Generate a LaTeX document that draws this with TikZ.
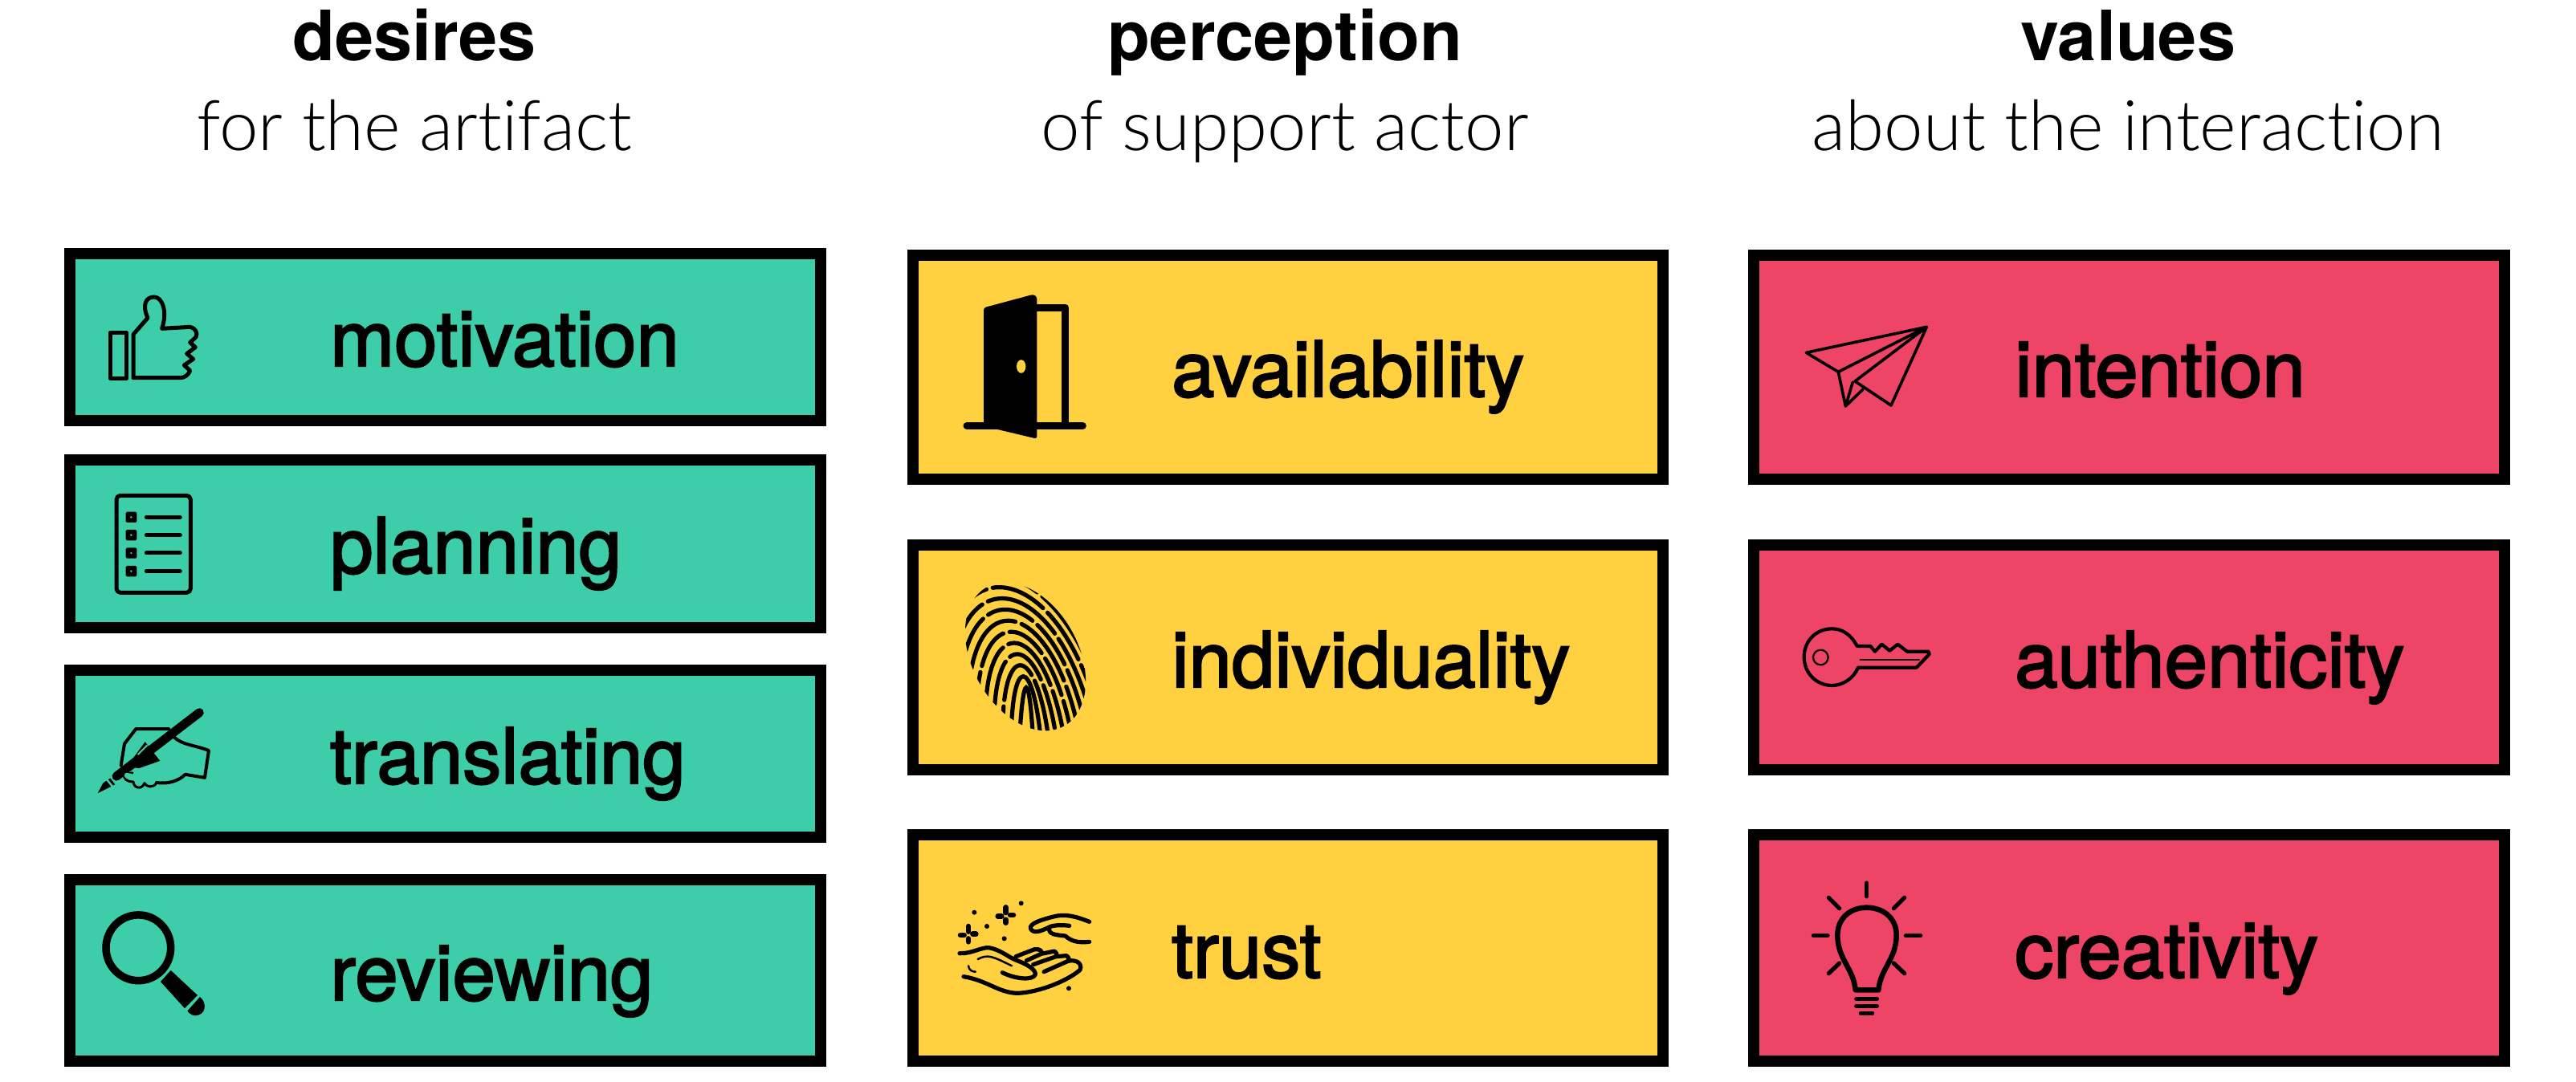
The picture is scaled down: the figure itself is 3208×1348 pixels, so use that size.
\documentclass[tikz,border=0pt]{standalone}
\usepackage{fontspec}
\setmainfont{TeX Gyre Heros}
\newfontfamily\medf[FakeBold=2.4]{TeX Gyre Heros}
\newfontfamily\lightf[Ligatures=NoCommon]{Lato Light}
\definecolor{cgreen}{HTML}{3DCDA8}
\definecolor{cyellow}{HTML}{FFD03F}
\definecolor{cred}{HTML}{EE4465}
\tikzset{
  boxy/.style={draw=black,line width=14pt,inner sep=0pt,outer sep=0pt},
  lab/.style={anchor=base west,inner sep=0pt,font=\medf\fontsize{96}{96}\selectfont},
  head/.style={anchor=base,inner sep=0pt,font=\bfseries\fontsize{86.5}{86.5}\selectfont},
  sub/.style={anchor=base,inner sep=0pt,font=\lightf\fontsize{87}{87}\selectfont},
  zoomed/.style={shift={#1},scale=0.33333},
  ic/.style={draw=black,line width=#1pt,line cap=round,line join=round},
  ic/.default=5
}
\newcommand{\cardbox}[6]{%
  \pgfmathsetmacro\cw{#4-#2-14}\pgfmathsetmacro\ch{#5-#3-14}%
  \pgfmathsetmacro\cx{(#2+#4)/2}\pgfmathsetmacro\cy{(#3+#5)/2}%
  \node[boxy,fill=#6,minimum width=\cw pt,minimum height=\ch pt] (#1) at (\cx,\cy) {};%
}
\begin{document}
\begin{tikzpicture}[x=1pt,y=-1pt]
\useasboundingbox (0,0) rectangle (3208,1348);
% headers
\node[head] (h1) at (516,76) {desires};
\node[sub] (s1) at (516,188) {for the artifact};
\node[head] (h2) at (1600,76) {perception};
\node[sub] (s2) at (1600,188) {of support actor};
\node[head] (h3) at (2650,76) {values};
\node[sub] (s3) at (2650,188) {about the interaction};
% boxes
\cardbox{g1}{80}{309}{1029}{531}{cgreen}
\cardbox{g2}{80}{566}{1029}{789}{cgreen}
\cardbox{g3}{80}{828}{1029}{1050}{cgreen}
\cardbox{g4}{80}{1089}{1029}{1329}{cgreen}
\cardbox{y1}{1130}{311}{2078}{604}{cyellow}
\cardbox{y2}{1130}{672}{2078}{966}{cyellow}
\cardbox{y3}{1130}{1033}{2078}{1329}{cyellow}
\cardbox{r1}{2177}{311}{3126}{604}{cred}
\cardbox{r2}{2177}{672}{3126}{966}{cred}
\cardbox{r3}{2177}{1033}{3126}{1329}{cred}
% labels
\node[lab] (lg1) at (411,456) {motivation};
\node[lab] (lg2) at (411,714) {planning};
\node[lab] (lg3) at (411,976) {translating};
\node[lab] (lg4) at (411,1246) {reviewing};
\node[lab] (ly1) at (1459,494) {availability};
\node[lab] (ly2) at (1459,856) {individuality};
\node[lab] (ly3) at (1459,1218) {trust};
\node[lab] (lr1) at (2509,494) {intention};
\node[lab] (lr2) at (2509,856) {authenticity};
\node[lab] (lr3) at (2509,1218) {creativity};
% thumb
\begin{scope}[zoomed={(60,290)}]
\draw[ic] (232,372) rectangle (292,544);
\draw[ic] (318,380) -- (372,318) .. controls (350,270) and (365,240) .. (395,240)
  .. controls (430,240) and (445,300) .. (425,358) -- (530,352) .. controls (550,355) and (560,375) .. (552,390)
  -- (530,410) -- (550,428) -- (518,452) -- (542,472) -- (508,495) -- (530,515) .. controls (525,530) and (510,542) .. (495,542) -- (318,542) -- cycle;
\end{scope}
% list
\begin{scope}[zoomed={(60,290)}]
\draw[ic,rounded corners=5pt] (255,982) rectangle (532,1345);
\foreach \yy in {1063,1130,1197,1265}{
  \fill[black,rounded corners=1.5pt] (290,\yy-20) rectangle (331,\yy+20);
  \fill[cgreen] (310,\yy) circle (4pt);
  \draw[ic] (367,\yy) -- (493,\yy);
}
\end{scope}
% pen + hand
\begin{scope}[shift={(60,810)},xscale=0.33333,yscale=0.338]
\draw[ic=4] (450,290) -- (328,290) -- (285,345) -- (272,425);
\draw[ic=4] (470,320) .. controls (500,350) and (550,350) .. (600,370) -- (585,470) -- (512,458)
  .. controls (490,480) and (450,495) .. (405,488);
\draw[ic=3] (405,488) .. controls (395,510) and (365,505) .. (360,490) .. controls (350,515) and (320,510) .. (318,485) .. controls (295,485) and (280,475) .. (285,458) -- (315,452);
\draw[black,line width=11pt,line cap=round] (565,230) -- (255,465);
\fill[black] (320,395) -- (362,338) -- (418,408) -- (340,435) -- (290,430) -- cycle;
\draw[cgreen,line width=2pt] (335,385) -- (370,350);
\fill[black] (232,472) -- (250,495) -- (200,520) -- (185,527) -- (205,490) -- cycle;
\draw[cgreen,line width=2.5pt] (220,478) -- (240,502);
\fill[cgreen] (290,452) .. controls (280,460) and (285,472) .. (300,475) -- (315,470) -- (312,455) -- cycle;
\end{scope}
% magnifier
\begin{scope}[shift={(60,810)},xscale=0.33333,yscale=0.338]
\draw[black,line width=9.5pt] (337,1097) circle (121pt);
\fill[black] (458,1180) -- (558,1272) -- (510,1320) -- (420,1222) -- cycle;
\fill[black] (567,1278) .. controls (595,1300) and (590,1345) .. (550,1347) .. controls (540,1347) and (530,1342) .. (520,1330) -- cycle;
\end{scope}
% door
\begin{scope}[shift={(1130,330)},xscale=0.33333,yscale=0.3954]
\draw[ic=9] (222,507) -- (655,507);
\draw[black,line width=9.5pt,line join=round] (480,135) -- (590,135) -- (590,505);
\fill[black,rounded corners=3pt] (285,135) -- (470,93) -- (484,100) -- (484,548) -- (330,517) -- (285,517) -- cycle;
\fill[cyellow] (425,320) ellipse (17pt and 21pt);
\end{scope}
% fingerprint
\begin{scope}
\clip[rotate around={29:(1277,818)}] (1277,818) ellipse (66pt and 99pt);
\begin{scope}[shift={(1278,850)}]
\foreach \k/\pat/\off in {0/200/0,1/200/0,2/70/20,3/55/10,4/80/40,5/50/15,6/90/0,7/60/30,8/100/20,9/70/10,10/110/40}{
  \pgfmathsetmacro\wid{4+10*\k}
  \pgfmathsetmacro\tp{-18-18.5*\k}
  \pgfmathsetmacro\sh{5*\k}
  \draw[black,line width=5.2pt,line cap=round,dash pattern=on \pat pt off 8pt,dash phase=\off pt]
    (-\wid-5,80) .. controls (-\wid-\sh,\tp) and (\wid-\sh,\tp) .. (\wid+5,80);
}
\end{scope}
\end{scope}
% trust hands
\begin{scope}[zoomed={(1150,1090)},every path/.append style={ic=5.2}]
\draw (620,175) .. controls (570,155) and (530,145) .. (490,155) .. controls (450,165) and (395,180) .. (400,200) .. controls (410,222) and (440,210) .. (470,195) .. controls (490,185) and (530,188) .. (545,190);
\draw (470,205) .. controls (470,225) and (510,225) .. (530,228) .. controls (550,245) and (570,255) .. (620,250);
\draw (135,293) .. controls (180,295) and (215,270) .. (245,272) .. controls (290,280) and (320,310) .. (350,320) .. controls (390,335) and (420,355) .. (418,372) .. controls (410,395) and (345,390) .. (295,365);
\draw (345,305) -- (415,278) .. controls (435,275) and (445,285) .. (440,295) -- (385,320);
\draw (440,295) -- (490,285) .. controls (500,295) and (500,300) .. (495,305) -- (410,335);
\draw (495,305) -- (535,302) .. controls (545,310) and (545,318) .. (540,322) -- (450,362);
\draw (540,322) .. controls (570,315) and (595,330) .. (585,355) .. controls (540,395) and (430,440) .. (350,442) .. controls (280,440) and (240,395) .. (150,380);
\draw[line width=2.5pt] (203,315) .. controls (240,295) and (260,305) .. (330,340);
\draw[line width=2.5pt] (168,340) .. controls (170,355) and (180,362) .. (195,362);
\foreach \xx/\yy in {308/153,168/224}{
  \draw[line width=6.5pt] (\xx,\yy-32) -- (\xx,\yy-12);
  \draw[line width=6.5pt] (\xx,\yy+14) -- (\xx,\yy+26);
  \draw[line width=6.5pt] (\xx-30,\yy+1) -- (\xx-16,\yy+1);
  \draw[line width=6.5pt] (\xx+16,\yy-3) -- (\xx+28,\yy-3);
}
\foreach \xx/\yy in {190/140,365/106,237/192,302/238,543/424}{
  \fill[black,draw=none] (\xx,\yy) circle (9pt);
}
\end{scope}
% plane
\begin{scope}[zoomed={(2210,370)}]
\draw[ic=3.6] (118,208) -- (568,112) -- (435,405) -- (300,315) -- (568,112) -- (238,280) -- cycle;
\draw[ic=3.6] (238,280) -- (265,408) -- (292,318);
\draw[ic=3.6] (265,408) -- (330,345);
\end{scope}
% key
\begin{scope}[zoomed={(2210,370)}]
\draw[ic=4.2] (308,1305) .. controls (285,1260) and (250,1240) .. (215,1240) .. controls (155,1240) and (110,1285) .. (110,1345) .. controls (110,1405) and (155,1452) .. (215,1452) .. controls (255,1452) and (295,1425) .. (312,1385)
  -- (530,1385) -- (578,1335) -- (575,1325) -- (495,1325) -- (460,1298) -- (430,1322) -- (400,1298) -- (375,1325) -- (358,1305) -- cycle;
\draw[ic=2.2] (172,1347) circle (28pt);
\draw[ic=2.2] (320,1357) -- (540,1357);
\end{scope}
% bulb
\begin{scope}[zoomed={(2220,1080)}]
\draw[ic=6.5] (272,460) .. controls (265,380) and (205,345) .. (205,255) .. controls (205,190) and (255,152) .. (313,152) .. controls (375,152) and (425,190) .. (425,255) .. controls (425,345) and (365,380) .. (358,460) -- cycle;
\foreach \xa/\ya/\xb/\yb in {314/60/314/110,172/115/212/155,455/115/415/155,115/257/168/257,460/257/515/257,172/398/212/360,455/398/415/360,275/494/352/494,275/520/352/520,292/547/335/547}{
  \draw[ic=5.2] (\xa,\ya) -- (\xb,\yb);
}
\end{scope}
\end{tikzpicture}
\end{document}
